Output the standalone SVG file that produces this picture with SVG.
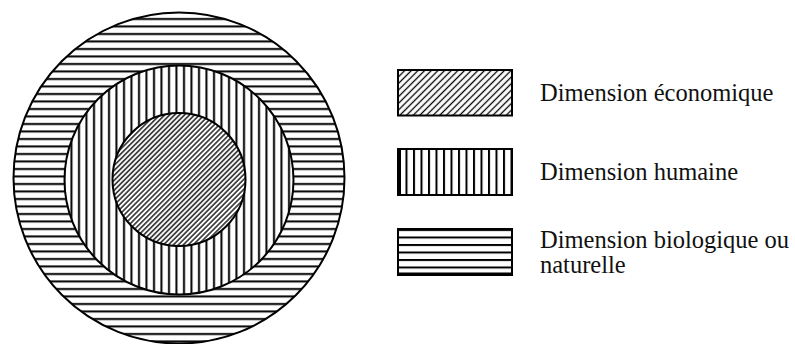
<svg xmlns="http://www.w3.org/2000/svg" width="795" height="344" viewBox="0 0 795 344">
  <defs>
    <pattern id="hz" patternUnits="userSpaceOnUse" width="20" height="7.5" y="0">
      <rect width="20" height="7.5" fill="#fff"/>
      <rect x="0" y="3" width="20" height="2" fill="#000"/>
    </pattern>
    <pattern id="vt" patternUnits="userSpaceOnUse" width="7.5" height="20" x="0">
      <rect width="7.5" height="20" fill="#fff"/>
      <rect x="3" y="0" width="2" height="20" fill="#000"/>
    </pattern>
    <pattern id="dgc" patternUnits="userSpaceOnUse" width="3.5" height="10" patternTransform="rotate(45)">
      <rect width="3.5" height="10" fill="#fff"/>
      <line x1="1.75" y1="0" x2="1.75" y2="10" stroke="#000" stroke-width="1.3"/>
    </pattern>
    <pattern id="dgb" patternUnits="userSpaceOnUse" width="4.7" height="10" patternTransform="rotate(45)">
      <rect width="4.7" height="10" fill="#fff"/>
      <line x1="2.35" y1="0" x2="2.35" y2="10" stroke="#000" stroke-width="1.3"/>
    </pattern>
    <pattern id="vtb" patternUnits="userSpaceOnUse" width="7.5" height="20" x="398">
      <rect width="7.5" height="20" fill="#fff"/>
      <rect x="0" y="0" width="2" height="20" fill="#000"/>
    </pattern>
    <pattern id="hzb" patternUnits="userSpaceOnUse" width="20" height="7.5" y="229">
      <rect width="20" height="7.5" fill="#fff"/>
      <rect x="0" y="0" width="20" height="2" fill="#000"/>
    </pattern>
  </defs>
  <style>
    .ring { stroke: #000; stroke-width: 2; }
    .box { stroke: #000; stroke-width: 2; }
    .lbl { font-family: "Liberation Serif", "Times New Roman", serif; font-size: 24.5px; fill: #111; }
  </style>
  <rect width="795" height="344" fill="#fff"/>

  <g id="outer">
    <circle cx="179" cy="178" r="165.5" fill="url(#hz)" class="ring"/>
  </g>
  <g id="middle">
    <circle cx="179" cy="180" r="114.5" fill="url(#vt)" class="ring"/>
  </g>
  <g id="inner">
    <circle cx="179" cy="179.5" r="66.5" fill="url(#dgc)" class="ring"/>
  </g>

  <g id="legend-economique">
    <rect x="398" y="70" width="114" height="45.5" fill="url(#dgb)" class="box"/>
    <text x="540" y="101" class="lbl">Dimension économique</text>
  </g>
  <g id="legend-humaine">
    <rect x="398" y="149" width="114" height="46" fill="url(#vtb)" class="box"/>
    <rect x="398" y="149" width="3" height="46" fill="#000"/>
    <text x="540" y="180" class="lbl">Dimension humaine</text>
  </g>
  <g id="legend-biologique">
    <rect x="398" y="229" width="114" height="46" fill="url(#hzb)" class="box"/>
    <rect x="398" y="272.5" width="114" height="3" fill="#000"/>
    <text class="lbl"><tspan x="540" y="248">Dimension biologique ou</tspan><tspan x="540" y="273">naturelle</tspan></text>
  </g>
  <g id="connectors"/>
</svg>
